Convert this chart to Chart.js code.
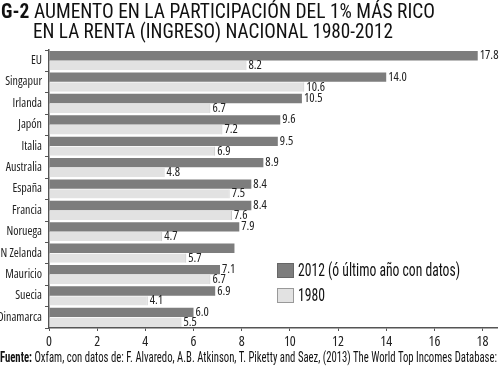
<!DOCTYPE html>
<html><head><meta charset="utf-8">
<script src="https://cdn.jsdelivr.net/npm/chart.js@4"></script>
<style>
html,body{margin:0;padding:0;background:#fff;}
#wrap{position:relative;width:500px;height:367px;overflow:hidden;font-family:"Roboto Condensed",Roboto,sans-serif;color:#111;}
#c{position:absolute;left:0;top:0;}
.t{position:absolute;white-space:nowrap;transform-origin:0 0;}
#t1{left:1px;top:0px;font-size:21px;line-height:22px;}
#t2{left:33px;top:20px;font-size:21px;line-height:22px;}
#t1 b{font-weight:bold;margin-right:5px;}
#foot{left:0;top:349px;font-size:14px;line-height:16px;}
.lg{position:absolute;width:15px;height:13px;border:1px solid #666;}
.lt{position:absolute;font-size:17.5px;line-height:18px;}
</style></head><body>
<div id="wrap">
<canvas id="c" width="500" height="367"></canvas>
<div class="t" id="t1" data-w="434"><b>G-2</b>AUMENTO EN LA PARTICIPACIÓN DEL 1% MÁS RICO</div>
<div class="t" id="t2" data-w="360">EN LA RENTA (INGRESO) NACIONAL 1980-2012</div>
<div class="t" id="foot" data-w="497"><b>Fuente:</b> Oxfam, con datos de: F. Alvaredo, A.B. Atkinson, T. Piketty and Saez, (2013) The World Top Incomes Database:</div>
<div class="lg" style="left:277px;top:263px;background:#7d7d7d;"></div>
<div class="t lt" style="left:298px;top:261px;" data-w="162">2012 (ó último año con datos)</div>
<div class="lg" style="left:277px;top:288px;background:#e2e2e2;border-color:#999;"></div>
<div class="t lt" style="left:298px;top:286px;" data-w="27">1980</div>
</div>
<script>
const categories = ["EU","Singapur","Irlanda","Japón","Italia","Australia","España","Francia","Noruega","N Zelanda","Mauricio","Suecia","Dinamarca"];
const values2012 = [17.8,14.0,10.5,9.6,9.5,8.9,8.4,8.4,7.9,7.7,7.1,6.9,6.0];
const values1980 = [8.2,10.6,6.7,7.2,6.9,4.8,7.5,7.6,4.7,5.7,6.7,4.1,5.5];
const hiddenLabels2012 = ["N Zelanda"];
const xTicks = [0,2,4,6,8,10,12,14,16,18];
const seriesNames = ["2012 (ó último año con datos)","1980"];

// horizontally condense HTML text to the reference widths
document.querySelectorAll('[data-w]').forEach(el=>{
  const w = el.getBoundingClientRect().width;
  el.style.transform = 'scaleX(' + (parseFloat(el.dataset.w)/w) + ')';
});

const FONT = '"Open Sans",sans-serif';

const valueLabels = {
  id:'valueLabels',
  afterDatasetsDraw(chart){
    const ctx = chart.ctx;
    ctx.save();
    ctx.font = 'condensed 12.5px ' + FONT;
    ctx.fillStyle = '#222';
    ctx.textBaseline = 'middle';
    ctx.textAlign = 'left';
    chart.data.datasets.forEach((ds,di)=>{
      const meta = chart.getDatasetMeta(di);
      meta.data.forEach((el,i)=>{
        if(di===0 && hiddenLabels2012.includes(categories[i])) return;
        ctx.fillText(ds.data[i].toFixed(1), el.x + 2, el.y);
      });
    });
    ctx.restore();
  }
};

new Chart(document.getElementById('c'),{
  type:'bar',
  data:{
    labels:categories,
    datasets:[
      {label:seriesNames[0],data:values2012,backgroundColor:'#7d7d7d',borderWidth:0,barPercentage:0.95,categoryPercentage:0.92},
      {label:seriesNames[1],data:values1980,backgroundColor:'#e2e2e2',borderColor:'#c4c4c4',borderWidth:{top:0,bottom:0,left:0,right:1},barPercentage:0.95,categoryPercentage:0.92}
    ]
  },
  options:{
    indexAxis:'y',
    responsive:false,
    animation:false,
    layout:{padding:{top:50,right:3,bottom:19,left:0}},
    plugins:{legend:{display:false},tooltip:{enabled:false},title:{display:false}},
    scales:{
      x:{
        min:0,max:18.6,
        afterFit(s){s.height=20;},
        afterBuildTicks(s){s.ticks = xTicks.map(v=>({value:v}));},
        border:{display:true,color:'#555',width:1.5},
        grid:{drawOnChartArea:false,drawTicks:true,tickLength:3,color:'#555'},
        ticks:{font:{family:FONT,size:14,weight:'condensed'},color:'#222',padding:3}
      },
      y:{
        afterFit(s){s.width=49;},
        border:{display:true,color:'#555',width:1.5},
        grid:{drawOnChartArea:false,drawTicks:true,tickLength:4,offset:true,color:'#555'},
        ticks:{font:{family:FONT,size:12,weight:'condensed'},color:'#222',padding:3}
      }
    }
  },
  plugins:[valueLabels]
});
</script>
</body></html>
